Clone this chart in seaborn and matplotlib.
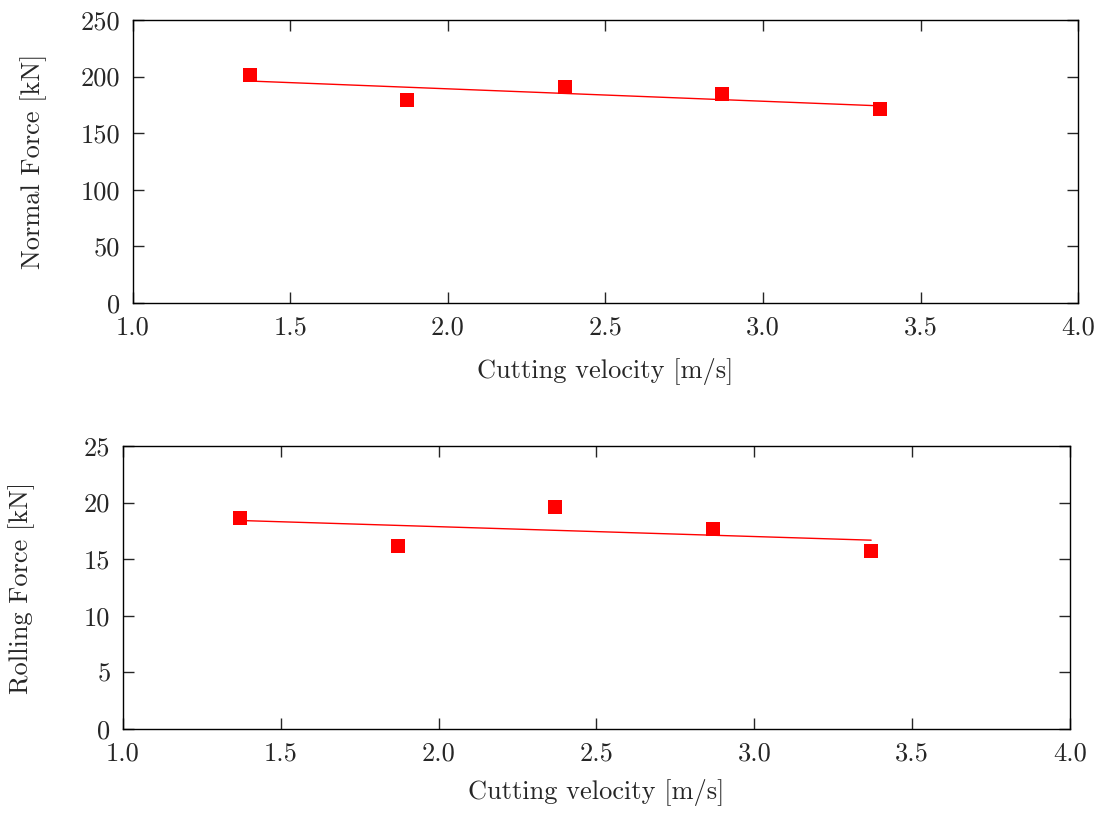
import matplotlib
matplotlib.use("Agg")
import matplotlib.pyplot as plt
import seaborn as sns
import pandas as pd

velocity = [1.37, 1.87, 2.37, 2.87, 3.37]
normal_force = [201.0, 179.0, 190.5, 184.2, 171.0]
rolling_force = [18.6, 16.2, 19.6, 17.65, 15.7]

x_ticks = [1.0, 1.5, 2.0, 2.5, 3.0, 3.5, 4.0]
normal_ticks = [0, 50, 100, 150, 200, 250]
rolling_ticks = [0, 5, 10, 15, 20, 25]

sns.set_style("ticks")
plt.rcParams['font.family'] = ['cmr10', 'DejaVu Serif']
plt.rcParams['axes.formatter.use_mathtext'] = True
plt.rcParams['font.size'] = 19

df = pd.DataFrame({'velocity': velocity,
                   'normal': normal_force,
                   'rolling': rolling_force})

fig = plt.figure(figsize=(10.97, 8.23), dpi=100)
ax1 = fig.add_axes([0.1212, 0.6318, 0.8615, 0.3439])
ax2 = fig.add_axes([0.1121, 0.1142, 0.8633, 0.3439])


def draw_panel(ax, col, ylabel, yticks, ymax, xlab_y, ylab_x):
    # scatter + least-squares line, like the original fit
    sns.regplot(x='velocity', y=col, data=df, ax=ax, ci=None, color='red',
                marker='s', scatter_kws={'s': 92, 'linewidths': 0, 'alpha': 1},
                line_kws={'linewidth': 1.0})
    ax.set_xlim(1.0, 4.0)
    ax.set_ylim(0, ymax)
    ax.set_xticks(x_ticks)
    ax.set_xticklabels([f'{t:.1f}' for t in x_ticks])
    ax.set_yticks(yticks)
    ax.set_yticklabels([str(t) for t in yticks])
    ax.set_xlabel('Cutting velocity [m/s]', fontsize=19)
    ax.set_ylabel(ylabel, fontsize=19)
    ax.xaxis.set_label_coords(0.5, xlab_y)
    ax.yaxis.set_label_coords(ylab_x, 0.5)
    ax.tick_params(direction='in', length=8, width=1, top=True, right=True,
                   labelsize=19, pad=9)
    for s in ax.spines.values():
        s.set_visible(True)
        s.set_linewidth(1.0)
        s.set_color('black')


draw_panel(ax1, 'normal', 'Normal Force [kN]', normal_ticks, 250, -0.194, -0.091)
draw_panel(ax2, 'rolling', 'Rolling Force [kN]', rolling_ticks, 25, -0.175, -0.093)

fig.savefig('out.png', dpi=100)
plt.close(fig)
